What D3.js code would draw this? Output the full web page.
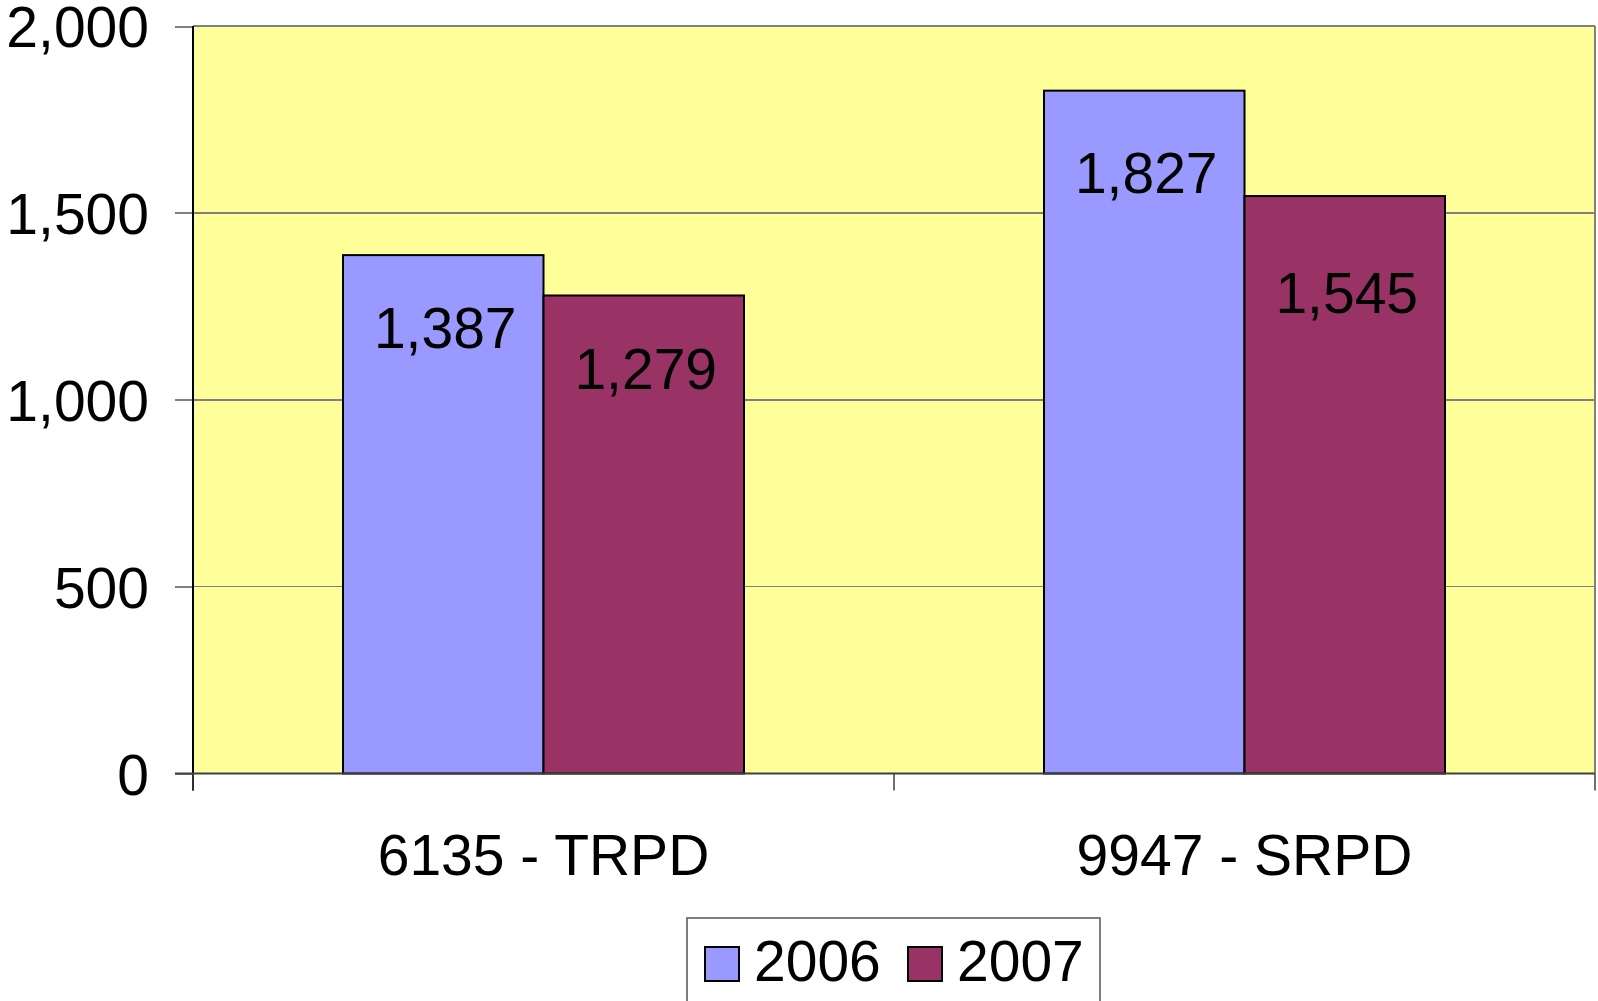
<!DOCTYPE html>
<meta charset="utf-8">
<script src="https://cdn.jsdelivr.net/npm/d3@7"></script>
<style>
body { margin: 0; background: #fff; }
svg text { font-family: "Liberation Sans", Arial, sans-serif; fill: #000; }
.axis path { display: none; }
.axis line { stroke: #808080; stroke-width: 2; shape-rendering: crispEdges; }
.axis text { font-size: 57px; }
.grid line { stroke: #808080; stroke-width: 1.5; shape-rendering: crispEdges; }
.bar { stroke: #000; stroke-width: 2; }
.value-label { font-size: 57px; text-anchor: middle; }
.cat-label { font-size: 57px; text-anchor: middle; }
.legend text { font-size: 57px; }
</style>
<body>
<div id="chart"></div>
<script>
// ---- data ----
const categories = ["6135 - TRPD", "9947 - SRPD"];
const years = ["2006", "2007"];
const values2006 = [1387, 1827];
const values2007 = [1279, 1545];
const yTicks = [0, 500, 1000, 1500, 2000];
const colors = ["#9999FF", "#993366"];
// label drop below the top of each bar (px), as placed in the original
const labelDrop = [[93, 94], [102, 117]];

// ---- layout ----
const W = 1598, H = 1001;
const plotL = 193, plotR = 1595, plotT = 26, plotB = 773.5;

const svg = d3.select("#chart").append("svg")
    .attr("width", W)
    .attr("height", H);

const x0 = d3.scaleBand()
    .domain(categories)
    .range([plotL, plotR])
    .paddingInner(300 / 701)
    .paddingOuter(150 / 701);

const x1 = d3.scaleBand()
    .domain(years)
    .range([0, x0.bandwidth()]);

const y = d3.scaleLinear()
    .domain([0, 2000])
    .range([plotB, plotT]);

const fmt = d3.format(",");

// plot background
svg.append("rect")
    .attr("x", plotL).attr("y", plotT)
    .attr("width", plotR - plotL).attr("height", plotB - plotT)
    .attr("fill", "#FFFF99");

// gridlines
svg.append("g").attr("class", "grid")
  .selectAll("line")
  .data(yTicks.slice(1))
  .join("line")
    .attr("x1", plotL).attr("x2", plotR)
    .attr("y1", d => y(d)).attr("y2", d => y(d));

// right border of plot
svg.append("line")
    .attr("x1", plotR).attr("x2", plotR)
    .attr("y1", plotT).attr("y2", plotB)
    .attr("stroke", "#808080").attr("stroke-width", 2);

// bars
const rows = categories.map((c, i) => ({ cat: c, vals: [values2006[i], values2007[i]], i: i }));

const groups = svg.selectAll("g.group")
  .data(rows)
  .join("g")
    .attr("class", "group")
    .attr("transform", d => "translate(" + x0(d.cat) + ",0)");

groups.selectAll("rect")
  .data(d => d.vals.map((v, j) => ({ year: years[j], v: v, j: j })))
  .join("rect")
    .attr("class", "bar")
    .attr("x", d => x1(d.year))
    .attr("y", d => y(d.v))
    .attr("width", x1.bandwidth())
    .attr("height", d => y(0) - y(d.v))
    .attr("fill", d => colors[d.j]);

groups.selectAll("text")
  .data(d => d.vals.map((v, j) => ({ year: years[j], v: v, j: j, i: d.i })))
  .join("text")
    .attr("class", "value-label")
    .attr("x", d => x1(d.year) + x1.bandwidth() / 2 + 2)
    .attr("y", d => y(d.v) + labelDrop[d.i][d.j])
    .text(d => fmt(d.v));

// y axis
const yAxis = svg.append("g")
    .attr("class", "axis")
    .attr("transform", "translate(" + plotL + ",0)")
    .call(d3.axisLeft(y).tickValues(yTicks).tickFormat(fmt).tickSize(18).tickPadding(26));
yAxis.selectAll("text").attr("dy", "0.36em");

// left axis line (black) and x axis line
svg.append("line")
    .attr("x1", plotL).attr("x2", plotL)
    .attr("y1", plotT).attr("y2", plotB + 17)
    .attr("stroke", "#000").attr("stroke-width", 2);
svg.append("line")
    .attr("x1", plotL - 18).attr("x2", plotR)
    .attr("y1", plotB).attr("y2", plotB)
    .attr("stroke", "#404040").attr("stroke-width", 2);

// category boundary ticks
const bounds = d3.range(categories.length + 1).map(k => plotL + k * x0.step());
svg.append("g").selectAll("line")
  .data(bounds)
  .join("line")
    .attr("x1", d => d).attr("x2", d => d)
    .attr("y1", plotB).attr("y2", plotB + 17)
    .attr("stroke", "#404040").attr("stroke-width", 1.5);

// category labels
svg.append("g").selectAll("text")
  .data(categories)
  .join("text")
    .attr("class", "cat-label")
    .attr("x", d => x0(d) + x0.bandwidth() / 2)
    .attr("y", 875)
    .text(d => d);

// legend
const legend = svg.append("g").attr("class", "legend");
legend.append("rect")
    .attr("x", 687).attr("y", 918)
    .attr("width", 413).attr("height", 100)
    .attr("fill", "#fff").attr("stroke", "#555").attr("stroke-width", 1.5);

const items = legend.selectAll("g.item")
  .data(years)
  .join("g")
    .attr("class", "item")
    .attr("transform", (d, i) => "translate(" + (705 + i * 203) + ",0)");
items.append("rect")
    .attr("x", 0).attr("y", 947)
    .attr("width", 34).attr("height", 34)
    .attr("fill", (d, i) => colors[i])
    .attr("stroke", "#000").attr("stroke-width", 2);
items.append("text")
    .attr("x", 49).attr("y", 981)
    .text(d => d);
</script>
</body>
